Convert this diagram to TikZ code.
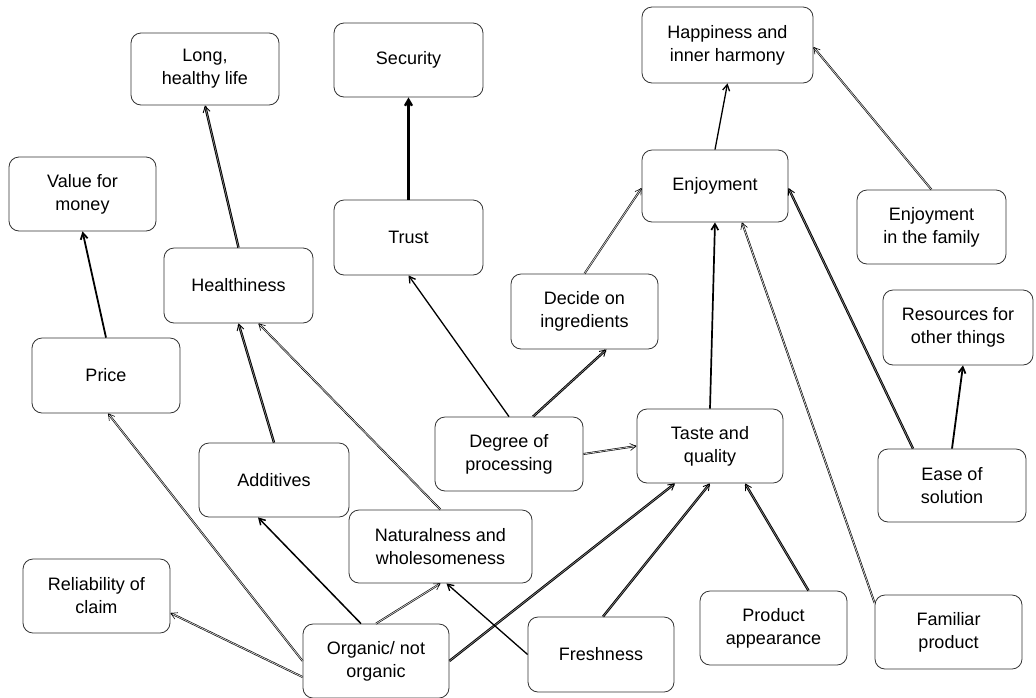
\documentclass[tikz,border=0pt]{standalone}
\usepackage{fontspec}
\setmainfont{Liberation Sans}
\usetikzlibrary{arrows.meta}

\begin{document}
\begin{tikzpicture}[x=1pt, y=-1pt,
  box/.style={draw=black!80, line width=0.8pt, rounded corners=10pt, fill=white,
    minimum width=148pt, minimum height=74pt, inner sep=0pt, align=center,
    font=\fontsize{18}{23}\selectfont},
  tip/.style={-{Straight Barb[length=6pt,width=7pt]}},
  solidlink/.style={tip, line width=1.3pt, draw=black},
  heavylink/.style={tip, line width=2.4pt, draw=black},
  dbllink/.style={tip, draw=black, line width=0.6pt, double=black!15, double distance=0.7pt},
  dblheavy/.style={tip, draw=black, line width=0.9pt, double=black!45, double distance=0.6pt},
]
\useasboundingbox (0,0) rectangle (1036,697);

% value nodes, top rows
\node[box, minimum width=171pt, minimum height=76pt] (hap) at (727.5,45) {Happiness and\\inner harmony};
\node[box, minimum width=146pt, minimum height=72pt] (enj) at (715,186) {Enjoyment};
\node[box, minimum width=149pt] (fam) at (931.5,227) {Enjoyment\\in the family};
\node[box, minimum width=150pt, minimum height=75pt] (res) at (958,327.5) {Resources for\\other things};
\node[box, minimum width=149pt] (sec) at (408.5,60) {Security};
\node[box, minimum width=149pt, minimum height=75pt] (trust) at (408.5,237.5) {Trust};
\node[box, minimum height=72pt] (long) at (205,69) {Long,\\healthy life};
\node[box, minimum width=147pt] (vfm) at (82.5,194) {Value for\\money};
\node[box, minimum width=149pt, minimum height=75pt] (hea) at (238.5,285.5) {Healthiness};

% consequence nodes
\node[box, minimum height=75pt] (price) at (106,375.5) {Price};
\node[box, minimum width=150pt] (add) at (274,480) {Additives};
\node[box] (deg) at (509,454) {Degree of\\processing};
\node[box, minimum width=147pt, minimum height=75pt] (dec) at (584.5,311.5) {Decide on\\ingredients};
\node[box, minimum width=146pt] (taste) at (710,446) {Taste and\\quality};
\node[box, minimum width=183pt, minimum height=73pt] (nat) at (440.5,546.5) {Naturalness and\\wholesomeness};
\node[box, minimum width=148pt, minimum height=73pt] (ease) at (952,485.5) {Ease of\\solution};

% attribute nodes, bottom row
\node[box, minimum width=146pt, minimum height=75pt] (fresh) at (601,654.5) {Freshness};
\node[box, minimum width=147pt] (prod) at (773.5,628) {Product\\appearance};
\node[box, minimum width=147pt] (rel) at (96.5,596) {Reliability of\\claim};
\node[box, minimum width=146pt] (org) at (376,661) {Organic/ not\\organic};
\node[box, minimum width=147pt] (famprod) at (948.5,632) {Familiar\\product};

% links
\draw[solidlink] (enj.north) -- (hap.south);
\draw[dbllink] (fam.north) -- ([yshift=-2pt]hap.east);
\draw[dbllink] (dec.north) -- ([yshift=-2pt]enj.west);
\draw[solidlink, line width=1.7pt] (taste.north) -- (enj.south);
\draw[dbllink] ([yshift=29pt]famprod.west) -- ([xshift=27pt]enj.south);
\draw[dblheavy] ([xshift=-39pt]ease.north) -- ([yshift=-2pt]enj.east);
\draw[solidlink, line width=1.8pt] (ease.north) -- ([xshift=5pt]res.south);
\draw[heavylink] (trust.north) -- (sec.south);
\draw[solidlink] (deg.north) -- (trust.south);
\draw[dblheavy] ([xshift=24pt]deg.north) -- ([xshift=22pt]dec.south);
\draw[dbllink] (deg.east) -- (taste.west);
\draw[dblheavy] (hea.north) -- (long.south);
\draw[heavylink, line width=1.8pt] (price.north) -- (vfm.south);
\draw[dblheavy] (add.north) -- (hea.south);
\draw[dbllink] (nat.north) -- ([xshift=20pt]hea.south);
\draw[dbllink] (org.west) -- ([xshift=2pt]price.south);
\draw[dbllink] ([yshift=-16pt]org.west) -- ([yshift=-17pt]rel.east);
\draw[solidlink, line width=1.5pt] ([xshift=-15pt]org.north) -- ([xshift=-16pt]add.south);
\draw[dbllink] (org.north) -- (nat.south);
\draw[dblheavy] (org.east) -- ([xshift=-35pt]taste.south);
\draw[solidlink] (fresh.west) -- ([xshift=6pt]nat.south);
\draw[dblheavy] ([xshift=2pt]fresh.north) -- (taste.south);
\draw[dblheavy] ([xshift=35pt]prod.north) -- ([xshift=35pt]taste.south);
\end{tikzpicture}
\end{document}
